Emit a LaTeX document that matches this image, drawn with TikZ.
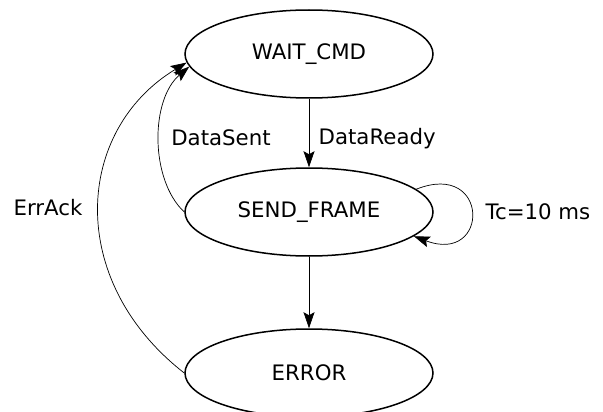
\documentclass[tikz,border=0pt]{standalone}
\usepackage{fontspec}
\setmainfont{DejaVu Sans}
\usetikzlibrary{shapes.geometric,arrows.meta}

\tikzset{
  state/.style={draw,ellipse,line width=1.5pt,minimum width=248pt,minimum height=88pt,inner sep=0pt},
  edge/.style={line width=0.7pt,-{Stealth[length=16pt,width=11pt,inset=3pt]}},
}

\begin{document}
\begin{tikzpicture}[x=1pt,y=-1pt,font=\fontsize{21.3}{25}\selectfont]
                \useasboundingbox (0,0) rectangle (603,412);
                \node[state] (wait) at (309,54) {WAIT\_CMD};
                \node[state] (send) at (309,212) {SEND\_FRAME};
                \node[state] (error) at (309,373) {ERROR};
                % straight transitions
                \draw[edge] (wait) -- (send) node[pos=0.58,right=6pt] {DataReady};
                \draw[edge] (send) -- (error);
                % back to WAIT_CMD
                \draw[edge] (send.west) .. controls (150,180) and (150,100) .. (wait.186);
                \node (sent) at (221,138) {DataSent};
                \draw[edge] (error.west) .. controls (65,280) and (75,130) .. (wait.184);
                \node (ack) at (48,208) {ErrAck};
                % timeout loop
                \draw[edge] (send.12) .. controls (490,160) and (490,265) .. (send.-13);
                \node (tc) at (538,212) {Tc=10 ms};
            \end{tikzpicture}
\end{document}
